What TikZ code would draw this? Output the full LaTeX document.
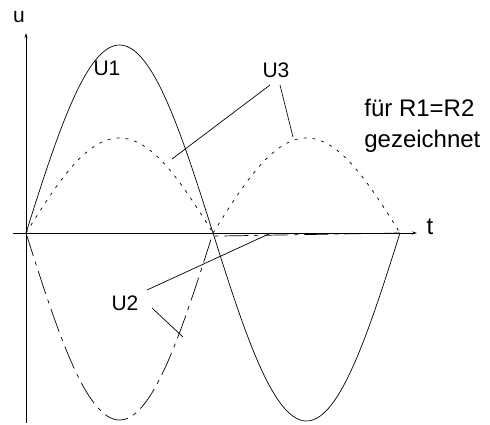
\documentclass[tikz,border=0pt]{standalone}
\usepackage{fontspec}
\setmainfont{Liberation Sans}
\usetikzlibrary{arrows.meta}

\begin{document}
\begin{tikzpicture}[
  x=1pt, y=-1pt,
  line width=0.7pt,
  lbl/.style={inner sep=0pt, font=\fontsize{21}{26}\selectfont},
  axis/.style={-{Stealth[length=5pt, width=3pt]}},
  dotline/.style={dash pattern=on 3pt off 6pt},
  dashdot/.style={dash pattern=on 24pt off 6pt on 4pt off 6pt},
  lead/.style={line width=0.7pt}
]
\useasboundingbox (0,0) rectangle (490,425);

% Axes
\coordinate (t0) at (13,233);
\coordinate (t1) at (417,233);
\coordinate (u0) at (26,423);
\coordinate (u1) at (26,33);
\draw[axis] (t0) -- (t1);
\draw[axis] (u0) -- (u1);
\node[lbl, font=\fontsize{24}{28}\selectfont] (tlbl) at (430,227) {t};
\node[lbl] (ulbl) at (19,17) {u};

% U1
\draw plot[domain=26:400, samples=120] (\x, {233 - 188*sin((\x-26)/187*180)});

% U3
\draw[dotline] plot[domain=26:212, samples=60] (\x, {233 - 95*sin((\x-26)/187*180)});
\draw[dotline] plot[domain=213:400, samples=60] (\x, {233 - 95*sin((\x-213)/187*180)});

% U2
\draw[dashdot] plot[domain=26:212, samples=60] (\x, {233 + 187*sin((\x-26)/187*180)})
  -- (400,233);

% Labels
\node[lbl] (U1) at (107,68) {U1};
\node[lbl] (U3) at (276,70) {U3};
\node[lbl] (U2) at (125,303) {U2};
\node[lbl, font=\fontsize{24}{31}\selectfont, align=left, anchor=west] (note) at (364,126)
  {für R1=R2\\gezeichnet};

% Leader lines
\coordinate (u3a) at (270,85);
\coordinate (u3b) at (280,85);
\coordinate (u3c) at (172,159);
\coordinate (u3d) at (293,137);
\draw[lead] (u3a) -- (u3c);
\draw[lead] (u3b) -- (u3d);
\coordinate (u2a) at (147,290);
\coordinate (u2b) at (152,308);
\coordinate (u2c) at (271,233);
\coordinate (u2d) at (183,337);
\draw[lead] (u2a) -- (u2c);
\draw[lead] (u2b) -- (u2d);

\end{tikzpicture}
\end{document}
